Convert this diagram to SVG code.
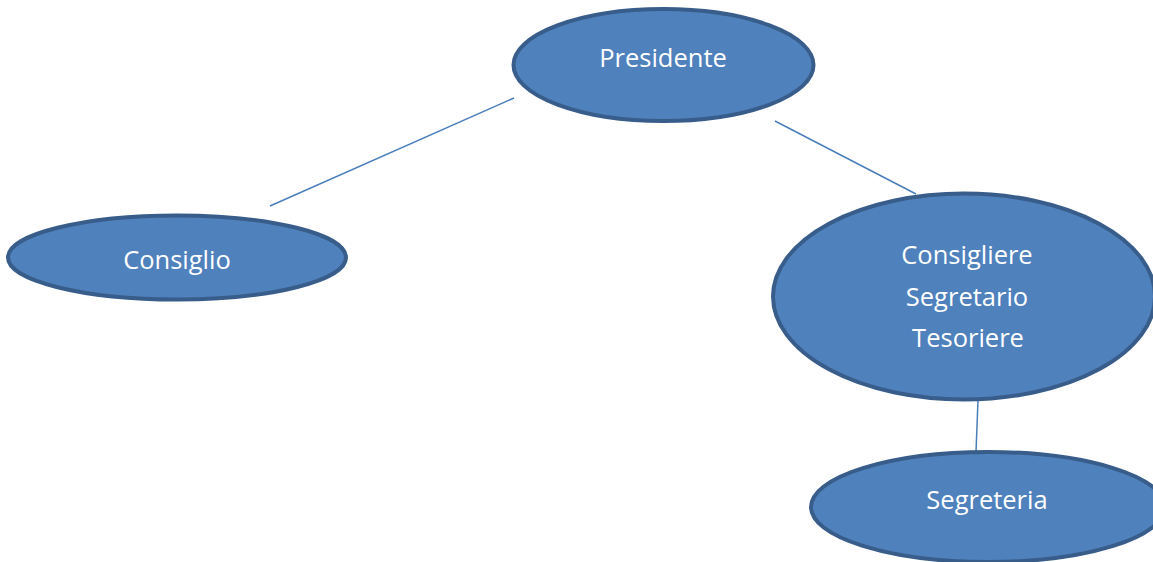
<svg xmlns="http://www.w3.org/2000/svg" width="1153" height="562" viewBox="0 0 1153 562">
<style>
.node ellipse{fill:#4F81BD;stroke:#385D8A;stroke-width:4}
.node text{fill:#FFFFFF;font-family:"Open Sans","Liberation Sans",sans-serif;font-size:25.5px;text-anchor:middle}
#connectors line{stroke:#4A7EBB;stroke-width:1.5}
</style>
<rect width="1153" height="562" fill="#FFFFFF"/>
<g id="connectors">
<line x1="514" y1="98" x2="270" y2="206"/>
<line x1="775" y1="121" x2="916" y2="194"/>
<line x1="978" y1="400" x2="976" y2="452"/>
</g>
<g id="presidente" class="node">
<ellipse cx="663.5" cy="65" rx="150" ry="56"/>
<text x="663" y="67">Presidente</text>
</g>
<g id="consiglio" class="node">
<ellipse cx="177" cy="257.5" rx="169" ry="42"/>
<text x="177" y="269">Consiglio</text>
</g>
<g id="consigliere" class="node">
<ellipse cx="964" cy="296.5" rx="191" ry="103"/>
<text x="967" y="264">Consigliere</text>
<text x="967" y="306">Segretario</text>
<text x="968" y="347">Tesoriere</text>
</g>
<g id="segreteria" class="node">
<ellipse cx="988" cy="507" rx="177" ry="55"/>
<text x="987" y="509">Segreteria</text>
</g>
</svg>
